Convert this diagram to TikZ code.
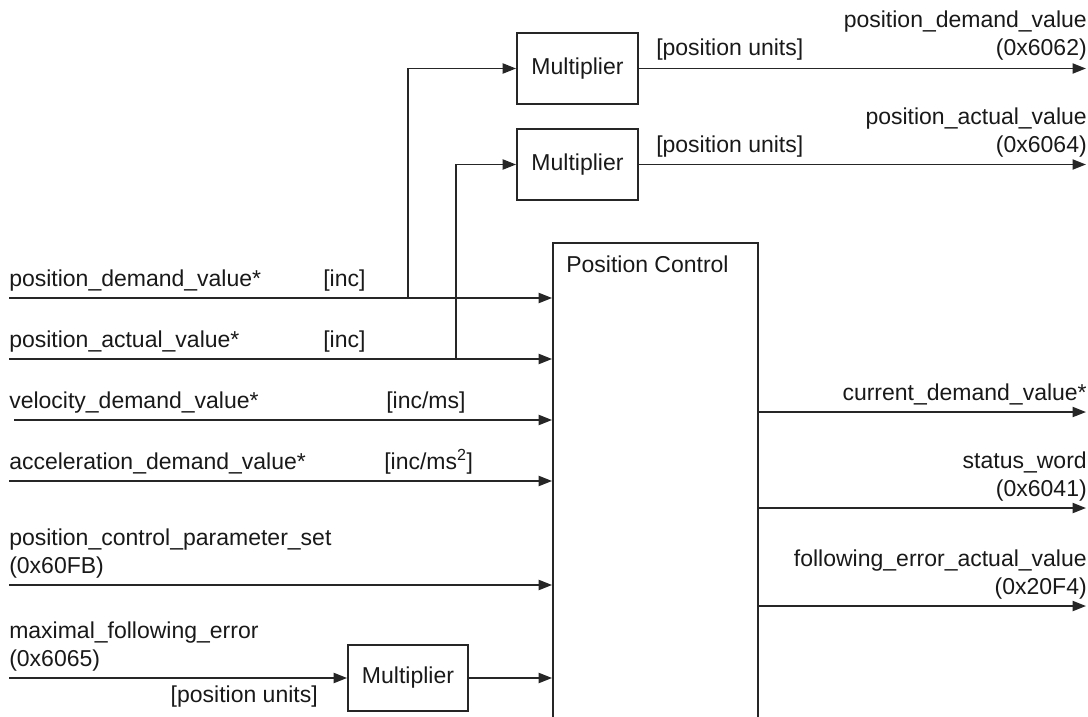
\documentclass[tikz,border=0pt]{standalone}
\usepackage{fontspec}
\setmainfont{Liberation Sans}
\usetikzlibrary{arrows.meta}
\begin{document}
\begin{tikzpicture}[x=0.75pt,y=-0.75pt,
  wire/.style={line width=1.4pt, draw=black!85},
  sig/.style={wire, -{Triangle[length=10pt,width=7.5pt]}},
  lbl/.style={inner sep=0pt, font=\fontsize{17.25}{20}\selectfont, text=black!90},
  box/.style={draw=black!85, line width=1.4pt, inner sep=0pt, rectangle, font=\fontsize{17.25}{20}\selectfont, text=black!90},
]
\useasboundingbox (0,0) rectangle (1088,717);
\clip (0,0) rectangle (1088,717);

% boxes
\node[box, minimum width=153.75pt, minimum height=417.75pt] (pc) at (655.5,521.5) {};
\node[lbl, anchor=base west] (pctitle) at (566,272) {Position Control};
\node[box, minimum width=90.75pt, minimum height=53.25pt] (mulA) at (577.5,68.5) {Multiplier};
\node[box, minimum width=90.75pt, minimum height=53.25pt] (mulB) at (577.5,164.5) {Multiplier};
\node[box, minimum width=90pt, minimum height=49.5pt] (mulC) at (408,678) {Multiplier};

% input start points
\coordinate (i1) at (9,298);
\coordinate (i2) at (9,359);
\coordinate (i3) at (14,420);
\coordinate (i4) at (9,481);
\coordinate (i5) at (9,585);
\coordinate (i6) at (9,678);
\coordinate (j1) at (408,298);
\coordinate (j2) at (456,359);

% output end points
\coordinate (oA) at (1086,68.5);
\coordinate (oB) at (1086,164.5);
\coordinate (o1) at (1086,412);
\coordinate (o2) at (1086,508);
\coordinate (o3) at (1086,606);

% input connectors
\draw[sig] (i1) -- (i1 -| pc.west);
\draw[sig] (i2) -- (i2 -| pc.west);
\draw[sig] (i3) -- (i3 -| pc.west);
\draw[sig] (i4) -- (i4 -| pc.west);
\draw[sig] (i5) -- (i5 -| pc.west);
\draw[sig] (i6) -- (mulC.west);
\draw[sig] (mulC.east) -- (mulC.east -| pc.west);
\draw[sig] (j1) |- (mulA.west);
\draw[sig] (j2) |- (mulB.west);

% output connectors
\draw[sig] (mulA.east) -- (oA);
\draw[sig] (mulB.east) -- (oB);
\draw[sig] (o1 -| pc.east) -- (o1);
\draw[sig] (o2 -| pc.east) -- (o2);
\draw[sig] (o3 -| pc.east) -- (o3);

% left labels
\node[lbl, anchor=base west] (t1) at (9,286) {position\_demand\_value*};
\node[lbl, anchor=base west] (u1) at (323,286) {[inc]};
\node[lbl, anchor=base west] (t2) at (9,347) {position\_actual\_value*};
\node[lbl, anchor=base west] (u2) at (323,347) {[inc]};
\node[lbl, anchor=base west] (t3) at (9,408) {velocity\_demand\_value*};
\node[lbl, anchor=base west] (u3) at (386,408) {[inc/ms]};
\node[lbl, anchor=base west] (t4) at (9,469) {acceleration\_demand\_value*};
\node[lbl, anchor=base west] (u4) at (384,469) {[inc/ms\textsuperscript{2}]};
\node[lbl, anchor=base west] (t5a) at (9,545) {position\_control\_parameter\_set};
\node[lbl, anchor=base west] (t5b) at (9,573) {(0x60FB)};
\node[lbl, anchor=base west] (t6a) at (9,638) {maximal\_following\_error};
\node[lbl, anchor=base west] (t6b) at (9,666) {(0x6065)};
\node[lbl, anchor=base east] (u6) at (318,702) {[position units]};

% top labels
\node[lbl, anchor=base west] (uA) at (656,56) {[position units]};
\node[lbl, anchor=base west] (uB) at (656,152) {[position units]};
\node[lbl, anchor=base east] (tAa) at (1087,28) {position\_demand\_value};
\node[lbl, anchor=base east] (tAb) at (1087,56) {(0x6062)};
\node[lbl, anchor=base east] (tBa) at (1087,124) {position\_actual\_value};
\node[lbl, anchor=base east] (tBb) at (1087,152) {(0x6064)};

% right labels
\node[lbl, anchor=base east] (r1) at (1087,400) {current\_demand\_value*};
\node[lbl, anchor=base east] (r2a) at (1087,468) {status\_word};
\node[lbl, anchor=base east] (r2b) at (1087,496) {(0x6041)};
\node[lbl, anchor=base east] (r3a) at (1087,566) {following\_error\_actual\_value};
\node[lbl, anchor=base east] (r3b) at (1087,594) {(0x20F4)};
\end{tikzpicture}
\end{document}
